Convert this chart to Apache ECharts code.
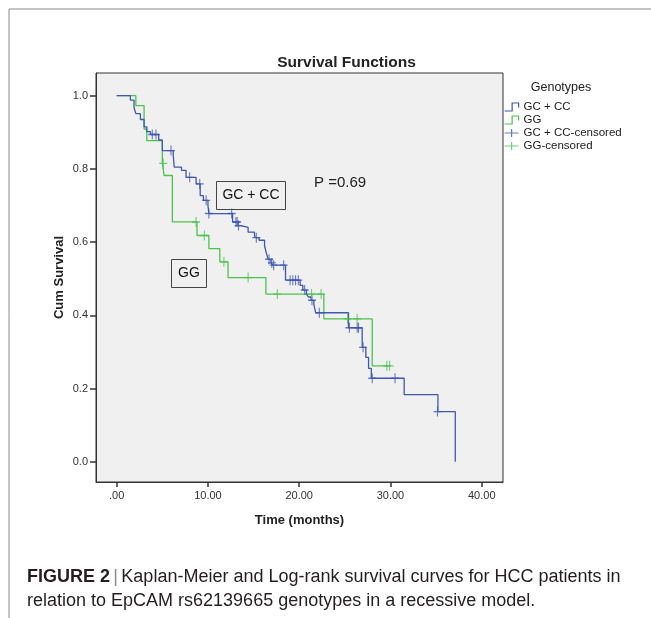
<!DOCTYPE html>
<html>
<head>
<meta charset="utf-8">
<script src="https://cdn.jsdelivr.net/npm/echarts@6.0.0/dist/echarts.min.js"></script>
<style>
  html,body{margin:0;padding:0;background:#fff;}
  #km{width:651px;height:618px;}
</style>
</head>
<body>
<div id="km"></div>
<script>
// survival steps [time, cum survival]
var gcccSteps=[[0,1.0],[1.5,0.988],[1.9,0.967],[2.1,0.951],[2.6,0.935],[3.0,0.915],[3.3,0.902],[3.7,0.894],
  [4.6,0.879],[5.0,0.85],[6.2,0.836],[6.3,0.805],[7.1,0.796],[7.6,0.777],[8.7,0.759],[9.15,0.727],
  [9.5,0.714],[10.0,0.70],[10.1,0.678],[12.7,0.655],[13.3,0.645],[13.6,0.64],[14.4,0.627],[15.1,0.618],
  [15.2,0.612],[15.6,0.605],[16.2,0.59],[16.4,0.57],[16.6,0.553],[16.9,0.543],[17.1,0.537],[18.5,0.496],
  [20.1,0.482],[20.4,0.469],[20.8,0.458],[21.0,0.45],[21.3,0.441],[21.6,0.43],[21.8,0.407],[25.4,0.366],
  [26.9,0.3125],[27.3,0.285],[27.6,0.255],[27.9,0.228],[31.5,0.183],[35.2,0.137],[37.1,0.0]];
var ggSteps=[[0,1.0],[2.1,0.973],[3.0,0.909],[3.3,0.877],[5.0,0.815],[5.2,0.782],[6.1,0.655],[8.8,0.618],
  [10.1,0.582],[11.3,0.546],[12.2,0.503],[16.35,0.458],[22.7,0.39],[28.0,0.262],[29.9,0.262]];
var gcccCensored=[[3.9,0.894],[4.3,0.894],[5.95,0.85],[8.0,0.777],[9.1,0.759],[9.8,0.714],[10.1,0.678],
  [12.6,0.678],[13.07,0.655],[13.2,0.655],[13.35,0.645],[15.3,0.612],[16.7,0.553],[17.0,0.543],[17.2,0.537],
  [18.3,0.537],[19.0,0.496],[19.3,0.496],[19.6,0.496],[19.9,0.496],[20.6,0.469],[21.4,0.441],[22.2,0.407],
  [25.5,0.366],[26.35,0.366],[26.5,0.366],[27.0,0.3125],[28.0,0.228],[30.5,0.228],[35.15,0.137]];
var ggCensored=[[5.1,0.815],[8.7,0.655],[9.6,0.618],[11.75,0.546],[14.4,0.503],[17.6,0.458],[21.35,0.458],
  [22.4,0.458],[25.3,0.39],[26.35,0.39],[29.6,0.262],[29.9,0.262]];
var xTicks=[0,10,20,30,40];
var yTicks=[0,0.2,0.4,0.6,0.8,1.0];

var BLUE='#3f57b1';
var GREEN='#4cc24c';
var FONT='Liberation Sans, Arial, sans-serif';
var plus='path://M0,5L10,5M5,0L5,10';
var stepIcon='path://M0,8L7,8L7,1L13,1L13,5';
var plusIcon='path://M0,5L14,5M7,0L7,10';

var chart=echarts.init(document.getElementById('km'),null,{renderer:'canvas'});
var option={
  backgroundColor:'#fff',
  animation:false,
  textStyle:{fontFamily:FONT},
  grid:{left:96,top:73,width:407,height:409,show:true,backgroundColor:'#f0f0f0',borderColor:'#333',borderWidth:1},
  xAxis:{
    type:'value',min:-2.268,max:42.33,
    name:'Time (months)',nameLocation:'middle',nameGap:32,nameMoveOverlap:false,
    nameTextStyle:{fontSize:13,fontWeight:'bold',color:'#222',fontFamily:FONT},
    axisLine:{show:true,onZero:false,lineStyle:{color:'#333',width:1}},
    axisTick:{show:true,length:5,customValues:xTicks,lineStyle:{color:'#333',width:1.5}},
    axisLabel:{customValues:xTicks,margin:8,fontSize:11,color:'#333',fontFamily:FONT,
      formatter:function(v){return v===0?'.00':v.toFixed(2);}},
    splitLine:{show:false}
  },
  yAxis:{
    type:'value',min:-0.0555,max:1.062,
    name:'Cum Survival',nameLocation:'middle',nameGap:30,nameMoveOverlap:false,
    nameTextStyle:{fontSize:13,fontWeight:'bold',color:'#222',fontFamily:FONT},
    axisLine:{show:true,onZero:false,lineStyle:{color:'#333',width:1}},
    axisTick:{show:true,length:6,customValues:yTicks,lineStyle:{color:'#333',width:1.5}},
    axisLabel:{customValues:yTicks,margin:8,fontSize:11,color:'#333',fontFamily:FONT,
      formatter:function(v){return v.toFixed(1);}},
    splitLine:{show:false}
  },
  legend:{
    orient:'vertical',left:499,top:96,itemWidth:14,itemHeight:8,itemGap:1,
    symbolKeepAspect:false,
    textStyle:{fontSize:11.5,color:'#222',fontFamily:FONT},
    data:[
      {name:'GC + CC',icon:stepIcon,itemStyle:{color:'rgba(0,0,0,0)',borderColor:BLUE,borderWidth:1.2}},
      {name:'GG',icon:stepIcon,itemStyle:{color:'rgba(0,0,0,0)',borderColor:GREEN,borderWidth:1.2}},
      {name:'GC + CC-censored',icon:plusIcon,itemStyle:{color:'rgba(0,0,0,0)',borderColor:BLUE,borderWidth:1.2}},
      {name:'GG-censored',icon:plusIcon,itemStyle:{color:'rgba(0,0,0,0)',borderColor:GREEN,borderWidth:1.2}}
    ]
  },
  graphic:[
    {type:'polyline',silent:true,shape:{points:[[9,618],[9,9],[651,9]]},style:{stroke:'#8a8a8a',lineWidth:1,fill:null}},
    {type:'text',silent:true,style:{text:'Survival Functions',x:346.5,y:63,
      align:'center',verticalAlign:'middle',font:'bold 15.5px '+FONT,fill:'#222'}},
    {type:'text',silent:true,style:{text:'Genotypes',x:561,y:88,align:'center',verticalAlign:'middle',
      font:'12.5px '+FONT,fill:'#222'}},
    {type:'rect',silent:true,shape:{x:216.5,y:181.5,width:69,height:28},style:{fill:null,stroke:'#444',lineWidth:1}},
    {type:'text',silent:true,style:{text:'GC + CC',x:251,y:195.5,align:'center',verticalAlign:'middle',
      font:'14px '+FONT,fill:'#111'}},
    {type:'rect',silent:true,shape:{x:171.5,y:259.5,width:35,height:28},style:{fill:null,stroke:'#444',lineWidth:1}},
    {type:'text',silent:true,style:{text:'GG',x:189,y:273.5,align:'center',verticalAlign:'middle',
      font:'14px '+FONT,fill:'#111'}},
    {type:'text',silent:true,style:{text:'P =0.69',x:314,y:183,align:'left',verticalAlign:'middle',
      font:'15px '+FONT,fill:'#222'}},
    {type:'text',silent:true,style:{
      text:'{b|FIGURE 2} {s||} {n|Kaplan-Meier and Log-rank survival curves for HCC patients in}\n{n|relation to EpCAM rs62139665 genotypes in a recessive model.}',
      x:27,y:565,align:'left',verticalAlign:'top',
      rich:{
        b:{font:'bold 18px '+FONT,fill:'#231f20',lineHeight:24},
        s:{font:'18px '+FONT,fill:'#888',lineHeight:24},
        n:{font:'18px '+FONT,fill:'#231f20',lineHeight:24}
      }}}
  ],
  series:[
    {name:'GC + CC',type:'line',step:'end',data:gcccSteps,showSymbol:false,symbol:'none',
      lineStyle:{color:BLUE,width:1.3},itemStyle:{color:BLUE},z:3},
    {name:'GG',type:'line',step:'end',data:ggSteps,showSymbol:false,symbol:'none',
      lineStyle:{color:GREEN,width:1.3},itemStyle:{color:GREEN},z:2},
    {name:'GC + CC-censored',type:'scatter',data:gcccCensored,symbol:plus,symbolSize:[8,10],
      itemStyle:{color:'rgba(0,0,0,0)',borderColor:BLUE,borderWidth:1.2},z:4},
    {name:'GG-censored',type:'scatter',data:ggCensored,symbol:plus,symbolSize:[8,10],
      itemStyle:{color:'rgba(0,0,0,0)',borderColor:GREEN,borderWidth:1.2},z:4}
  ]
};
chart.setOption(option);
</script>
</body>
</html>
